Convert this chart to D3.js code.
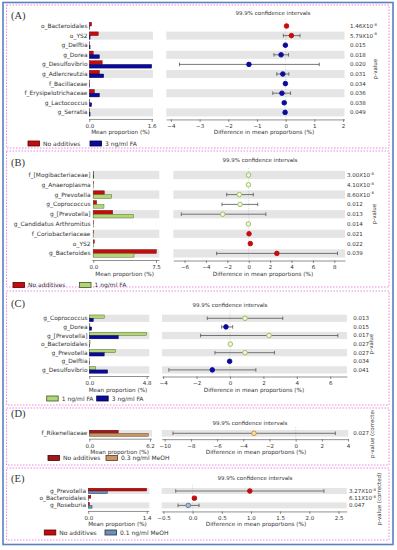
<!DOCTYPE html>
<html>
<head>
<meta charset="utf-8">
<script src="https://cdn.jsdelivr.net/npm/d3@7"></script>
<style>
  body { margin: 0; background: #fff; }
  text { font-family: "DejaVu Sans", sans-serif; fill: #333; }
</style>
</head>
<body>
<div id="chart"></div>
<script>
// (A) No additives vs 3 ng/ml FA
const taxaA = ["o_Bacteroidales", "o_YS2", "g_Delftia", "g_Dorea", "g_Desulfovibrio", "g_Adlercreutzia", "f_Bacillaceae", "f_Erysipelotrichaceae", "g_Lactococcus", "g_Serratia"];
const meanA1 = [0.06, 0.23, 0.005, 0.10, 0.33, 0.26, 0.01, 0.13, 0.01, 0.005];
const meanA2 = [0.01, 0.02, 0.02, 0.26, 1.60, 0.37, 0.01, 0.26, 0.06, 0.02];
const diffA = [0.03, 0.20, -0.01, -0.16, -1.28, -0.10, -0.01, -0.13, -0.05, -0.02];
const lowA = [0.01, -0.08, -0.03, -0.41, -3.70, -0.31, -0.02, -0.45, -0.10, -0.04];
const highA = [0.05, 0.50, 0.00, 0.10, 1.17, 0.11, 0.00, 0.17, 0.00, 0.00];
const pA = [1.46e-8, 5.79e-8, 0.015, 0.018, 0.020, 0.031, 0.034, 0.036, 0.038, 0.049];

// (B) No additives vs 1 ng/ml FA
const taxaB = ["f_[Mogibacteriaceae]", "g_Anaeroplasma", "g_Prevotella", "g_Coprococcus", "g_[Prevotella]", "g_Candidatus Arthromitus", "f_Coriobacteriaceae", "o_YS2", "g_Bacteroides"];
const meanB1 = [0.04, 0.01, 1.32, 0.40, 2.32, 0.02, 0.04, 0.12, 7.55];
const meanB2 = [0.06, 0.03, 2.20, 1.28, 4.80, 0.05, 0.01, 0.03, 4.87];
const diffB = [-0.02, -0.02, -0.88, -0.81, -2.43, -0.03, 0.03, 0.15, 2.63];
const lowB = [-0.05, -0.04, -2.06, -2.50, -6.30, -0.06, 0.01, 0.05, -3.00];
const highB = [0.01, 0.00, 0.43, 0.84, 1.60, 0.00, 0.05, 0.25, 8.30];
const pB = [3.00e-8, 4.10e-8, 8.60e-8, 0.012, 0.013, 0.014, 0.021, 0.022, 0.039];

// (C) 1 ng/ml FA vs 3 ng/ml FA
const taxaC = ["g_Coprococcus", "g_Dorea", "g_[Prevotella]", "o_Bacteroidales", "g_Prevotella", "g_Delftia", "g_Desulfovibrio"];
const meanC1 = [1.25, 0.05, 4.80, 0.06, 2.20, 0.005, 0.53];
const meanC2 = [0.34, 0.20, 2.43, 0.02, 1.25, 0.02, 1.54];
const diffC = [0.90, -0.24, 2.34, 0.02, 0.90, -0.02, -1.06];
const lowC = [-1.36, -0.50, -1.76, 0.00, -0.90, -0.04, -3.66];
const highC = [3.16, 0.16, 6.46, 0.04, 2.66, 0.00, 1.55];
const pC = [0.013, 0.015, 0.017, 0.027, 0.027, 0.034, 0.041];

// (D) No additives vs 0.3 ng/ml MeOH
const taxaD = ["f_Rikenellaceae"];
const meanD1 = [2.96];
const meanD2 = [6.03];
const diffD = [-3.18];
const lowD = [-9.37];
const highD = [3.03];
const pD = [0.027];

// (E) No additives vs 0.1 ng/ml MeOH
const taxaE = ["g_Prevotella", "o_Bacteroidales", "g_Roseburia"];
const meanE1 = [1.40, 0.06, 0.03];
const meanE2 = [0.46, 0.01, 0.09];
const diffE = [0.98, 0.03, -0.075];
const lowE = [-0.29, 0.00, -0.25];
const highE = [2.25, 0.06, 0.11];
const pE = [3.27e-8, 6.11e-8, 0.047];

// tick labels
const meanTicksA = [0, 1.6], diffTicksA = [-4, -3, -2, -1, 0, 1, 2];
const meanTicksB = [0, 7.5], diffTicksB = [-6, -4, -2, 0, 2, 4, 6, 8];
const meanTicksC = [0, 4.8], diffTicksC = [-4, -2, 0, 2, 4, 6];
const meanTicksD = [0, 6.2], diffTicksD = [-10, -8, -6, -4, -2, 0, 2, 4];
const meanTicksE = [0, 1.4], diffTicksE = [-0.5, 0, 0.5, 1, 1.5, 2, 2.5];

const RED = "#c40c0c", BLUE = "#0a0a9c", GREEN = "#b4d47a";

const svg = d3.select("#chart").append("svg")
  .attr("width", 397).attr("height", 550);

const fmtP = (p) => {
  if (p < 0.001) {
    const e = Math.floor(Math.log10(p));
    return [(p / Math.pow(10, e)).toFixed(2) + "X10", String(e)];
  }
  return [p.toFixed(3), null];
};

function drawPanel(d, L) {
  const g = svg.append("g");
  const n = d.taxa.length;

  // panel frame
  g.append("rect")
    .attr("x", 6.5).attr("y", L.box[0])
    .attr("width", 382.5).attr("height", L.box[1] - L.box[0])
    .attr("fill", "none").attr("stroke", "#e67ee0")
    .attr("stroke-width", 0.9).attr("stroke-dasharray", "1.5,1.5");

  g.append("text").attr("x", 11).attr("y", L.letterY)
    .style("font-family", "'Liberation Serif', serif").style("font-size", "10.5px")
    .attr("fill", "#222").text(L.letter);

  const y = d3.scaleBand().domain(d3.range(n))
    .range([L.row0 - L.step / 2, L.row0 + (n - 0.5) * L.step])
    .paddingInner(0.16).paddingOuter(0.08);
  const xm = d3.scaleLinear().domain([0, L.meanMax]).range(L.meanRange);
  const xd = d3.scaleLinear().domain(L.diffDomain).range(L.diffRange);
  const bw = y.bandwidth();
  const axisY = y(n - 1) + bw + L.axisGap;

  // alternating background stripes, bottom row shaded
  const shaded = d3.range(n).filter((i) => (n - 1 - i) % 2 === 0);
  g.selectAll(".bl").data(shaded).enter().append("rect")
    .attr("x", L.bandLeft[0]).attr("width", L.bandLeft[1] - L.bandLeft[0])
    .attr("y", (i) => y(i)).attr("height", bw).attr("fill", "#e5e5e5");
  g.selectAll(".br").data(shaded).enter().append("rect")
    .attr("x", L.diffRange[0]).attr("width", L.diffRange[1] - L.diffRange[0])
    .attr("y", (i) => y(i)).attr("height", bw).attr("fill", "#e5e5e5");

  // row labels
  g.selectAll(".lab").data(d.taxa).enter().append("text")
    .attr("x", L.labelX).attr("y", (t, i) => y(i) + bw / 2)
    .attr("dy", "0.35em").attr("text-anchor", "end")
    .style("font-size", "5.9px").text((t) => t);

  // mean proportion bars
  const hb = bw * 0.46;
  const b0 = bw * 0.04;
  g.selectAll(".m1").data(d.m1).enter().append("rect")
    .attr("x", xm(0)).attr("y", (v, i) => y(i) + b0)
    .attr("width", (v) => Math.max(0.4, xm(v) - xm(0))).attr("height", hb)
    .attr("fill", L.c1).attr("stroke", L.s1).attr("stroke-width", 0.4);
  g.selectAll(".m2").data(d.m2).enter().append("rect")
    .attr("x", xm(0)).attr("y", (v, i) => y(i) + b0 + hb)
    .attr("width", (v) => Math.max(0.4, xm(v) - xm(0))).attr("height", hb)
    .attr("fill", L.c2).attr("stroke", L.s2).attr("stroke-width", 0.4);

  // axes
  const fmtM = d3.format(".1f");
  const ax1 = g.append("g").attr("transform", `translate(0,${axisY})`)
    .call(d3.axisBottom(xm).tickValues(L.meanTicks).tickFormat(fmtM).tickSize(2.5).tickSizeOuter(0));
  const ax2 = g.append("g").attr("transform", `translate(0,${axisY})`)
    .call(d3.axisBottom(xd).tickValues(L.diffTicks).tickFormat(d3.format(L.diffFmt)).tickSize(2.5).tickSizeOuter(0));
  [ax1, ax2].forEach((a) => {
    a.select(".domain").attr("stroke", "#444").attr("stroke-width", 0.6);
    a.selectAll(".tick line").attr("stroke", "#444").attr("stroke-width", 0.6);
    a.selectAll(".tick text").attr("y", 4.5).style("font-size", "5.5px")
      .style("font-family", "'DejaVu Sans', sans-serif").attr("fill", "#333");
  });
  ax1.select(".domain").attr("d", `M${L.bandLeft[0]},0H${L.bandLeft[1]}`);

  g.append("text").attr("x", (L.meanRange[0] + L.meanRange[1]) / 2).attr("y", axisY + 15)
    .attr("text-anchor", "middle").style("font-size", "5.7px").text("Mean proportion (%)");
  g.append("text").attr("x", L.diffLabelX).attr("y", axisY + 15)
    .attr("text-anchor", "middle").style("font-size", "5.7px").text("Difference in mean proportions (%)");
  g.append("text").attr("x", L.titleX).attr("y", L.titleY)
    .attr("text-anchor", "middle").style("font-size", "5.5px").text("99.9% confidence intervals");

  // zero reference line
  g.append("line").attr("x1", xd(0)).attr("x2", xd(0))
    .attr("y1", y(0) - 3).attr("y2", axisY)
    .attr("stroke", "#aaa").attr("stroke-width", 0.5).attr("stroke-dasharray", "1,1.5");

  // confidence interval bars
  const ci = g.selectAll(".ci").data(d.diff).enter().append("g");
  ci.append("line")
    .attr("x1", (v, i) => xd(d.low[i])).attr("x2", (v, i) => xd(d.high[i]))
    .attr("y1", (v, i) => y(i) + bw / 2).attr("y2", (v, i) => y(i) + bw / 2)
    .attr("stroke", "#555").attr("stroke-width", 0.8);
  ["low", "high"].forEach((k) => {
    ci.append("line")
      .attr("x1", (v, i) => xd(d[k][i])).attr("x2", (v, i) => xd(d[k][i]))
      .attr("y1", (v, i) => y(i) + bw / 2 - 1.8).attr("y2", (v, i) => y(i) + bw / 2 + 1.8)
      .attr("stroke", "#555").attr("stroke-width", 0.8);
  });
  ci.append("circle")
    .attr("cx", (v) => xd(v)).attr("cy", (v, i) => y(i) + bw / 2).attr("r", 2.3)
    .attr("fill", (v) => (v > 0 ? L.p1[0] : L.p2[0]))
    .attr("stroke", (v) => (v > 0 ? L.p1[1] : L.p2[1]))
    .attr("stroke-width", 0.9);

  // p-values
  d.p.forEach((p, i) => {
    const [main, ex] = fmtP(p);
    const t = g.append("text").attr("x", L.pX).attr("y", y(i) + bw / 2).attr("dy", "0.35em")
      .style("font-size", "5.5px");
    t.append("tspan").text(main);
    if (ex) t.append("tspan").attr("dy", "-2.2").style("font-size", "3.8px").text(ex);
  });

  // rotated p-value label (clipped to the panel when it runs past the top)
  let holder = g;
  if (L.clipTop) {
    const id = "clip" + L.letter.replace(/\W/g, "");
    svg.append("clipPath").attr("id", id)
      .append("rect").attr("x", 0).attr("y", L.clipTop).attr("width", 397).attr("height", 100);
    holder = g.append("g").attr("clip-path", `url(#${id})`);
  }
  holder.append("text")
    .attr("transform", `translate(${L.pLabel[0]},${L.pLabel[1]}) rotate(-90)`)
    .attr("text-anchor", L.pLabel[3]).style("font-size", "5.5px").text(L.pLabel[2]);

  // legend
  const lg = g.append("g");
  [[L.c1, L.s1, L.names[0], L.leg[0]], [L.c2, L.s2, L.names[1], L.leg[1]]].forEach(([c, s, name, lx]) => {
    lg.append("rect").attr("x", lx).attr("y", L.legY - 2.5).attr("width", 11.5).attr("height", 5)
      .attr("fill", c).attr("stroke", s).attr("stroke-width", 0.8);
    lg.append("text").attr("x", lx + 15).attr("y", L.legY).attr("dy", "0.35em")
      .style("font-size", "6px").text(name);
  });
}

// outer frame
svg.append("rect").attr("x", 3).attr("y", 2.5).attr("width", 390).attr("height", 542)
  .attr("fill", "none").attr("stroke", "#5a80bd").attr("stroke-width", 1.6);

drawPanel({ taxa: taxaA, m1: meanA1, m2: meanA2, diff: diffA, low: lowA, high: highA, p: pA }, {
  letter: "(A)", letterY: 19, box: [5, 148], row0: 26, step: 9.6, labelX: 87.5,
  meanMax: 1.6, meanRange: [89.3, 151.7], bandLeft: [89, 153], meanTicks: meanTicksA,
  diffDomain: [-4.16, 2.05], diffRange: [166.3, 344.5], diffTicks: diffTicksA, diffFmt: "d",
  axisGap: 3, diffLabelX: 264, titleX: 273, titleY: 15,
  c1: RED, s1: "#5a0000", c2: BLUE, s2: "#000040",
  p1: [RED, RED], p2: [BLUE, BLUE],
  pX: 350, pLabel: [377, 69, "p-value", "middle"],
  names: ["No additives", "3 ng/ml FA"], leg: [28, 90], legY: 143.5
});

drawPanel({ taxa: taxaB, m1: meanB1, m2: meanB2, diff: diffB, low: lowB, high: highB, p: pB }, {
  letter: "(B)", letterY: 166, box: [151, 287], row0: 175, step: 9.8, labelX: 90.5,
  meanMax: 7.5, meanRange: [93.3, 156], bandLeft: [92.3, 159.3], meanTicks: meanTicksB,
  diffDomain: [-7.05, 9.0], diffRange: [173.3, 345], diffTicks: diffTicksB, diffFmt: "d",
  axisGap: 3, diffLabelX: 263, titleX: 260, titleY: 162,
  c1: RED, s1: "#5a0000", c2: GREEN, s2: "#3d5a1a",
  p1: [RED, RED], p2: ["#f2f7dc", "#95bd55"],
  pX: 347, pLabel: [376, 214, "p-value", "middle"],
  names: ["No additives", "1 ng/ml FA"], leg: [13, 79.5], legY: 285
});

drawPanel({ taxa: taxaC, m1: meanC1, m2: meanC2, diff: diffC, low: lowC, high: highC, p: pC }, {
  letter: "(C)", letterY: 307, box: [291, 405], row0: 318.3, step: 8.6, labelX: 87.5,
  meanMax: 4.8, meanRange: [89.3, 146.7], bandLeft: [89, 149.3], meanTicks: meanTicksC,
  diffDomain: [-4.07, 7.0], diffRange: [162, 346.9], diffTicks: diffTicksC, diffFmt: "d",
  axisGap: 3, diffLabelX: 254, titleX: 230, titleY: 306.5,
  c1: GREEN, s1: "#3d5a1a", c2: BLUE, s2: "#000040",
  p1: ["#f2f7dc", "#95bd55"], p2: [BLUE, BLUE],
  pX: 353.3, pLabel: [373, 344, "p-value", "middle"],
  names: ["1 ng/ml FA", "3 ng/ml FA"], leg: [46.7, 96.7], legY: 398.5
});

drawPanel({ taxa: taxaD, m1: meanD1, m2: meanD2, diff: diffD, low: lowD, high: highD, p: pD }, {
  letter: "(D)", letterY: 417, box: [408, 465], row0: 433.3, step: 8, labelX: 87.5,
  meanMax: 6.2, meanRange: [89.3, 150], bandLeft: [89, 152], meanTicks: meanTicksD,
  diffDomain: [-10.23, 4.02], diffRange: [161.7, 348.3], diffTicks: diffTicksD, diffFmt: "d",
  axisGap: 2.5, diffLabelX: 256, titleX: 250, titleY: 425,
  c1: "#9c1a1a", s1: "#4a0000", c2: "#c4966a", s2: "#5a3a1a",
  p1: ["#9c1a1a", "#9c1a1a"], p2: ["#f6dfb0", "#c98a2c"],
  pX: 353.3, pLabel: [374, 458, "p-value (corrected)", "start"], clipTop: 410,
  names: ["No additives", "0.3 ng/ml MeOH"], leg: [48, 106], legY: 458
});

drawPanel({ taxa: taxaE, m1: meanE1, m2: meanE2, diff: diffE, low: lowE, high: highE, p: pE }, {
  letter: "(E)", letterY: 482, box: [468, 540], row0: 491, step: 7.2, labelX: 86,
  meanMax: 1.4, meanRange: [88.3, 146.7], bandLeft: [88, 149.3], meanTicks: meanTicksE,
  diffDomain: [-0.53, 2.64], diffRange: [161.7, 346.7], diffTicks: diffTicksE, diffFmt: ".1f",
  axisGap: 3, diffLabelX: 256, titleX: 255, titleY: 480,
  c1: RED, s1: "#5a0000", c2: "#6f8fb5", s2: "#22344c",
  p1: [RED, RED], p2: ["#a9bcd2", "#5a7898"],
  pX: 349, pLabel: [381, 499, "p-value (corrected)", "middle"],
  names: ["No additives", "0.1 ng/ml MeOH"], leg: [44.3, 105], legY: 532.5
});
</script>
</body>
</html>
